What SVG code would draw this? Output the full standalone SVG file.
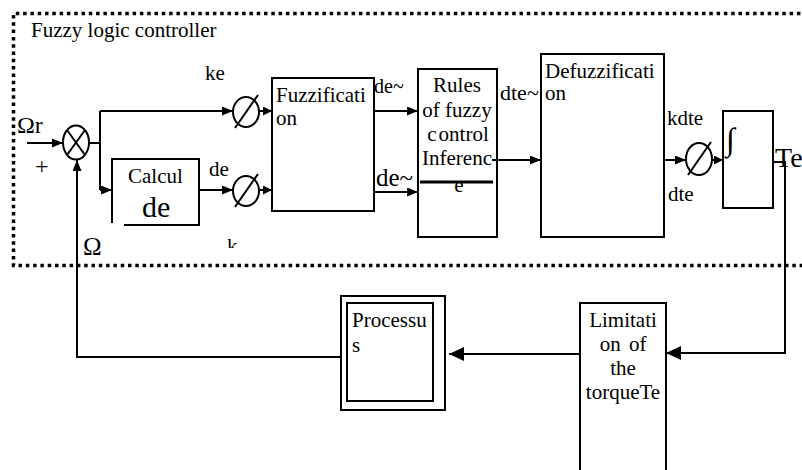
<svg xmlns="http://www.w3.org/2000/svg" width="802" height="470" viewBox="0 0 802 470">
<style>
text{font-family:"Liberation Serif","Times New Roman",serif;font-size:21px;fill:#000}
.box{fill:#fff;stroke:#000;stroke-width:2}
.ln{fill:none;stroke:#000;stroke-width:2}
.mid{text-anchor:middle}
</style>
<defs>
<marker id="a" markerUnits="userSpaceOnUse" markerWidth="11" markerHeight="9" refX="11" refY="4.5" orient="auto"><path d="M0,0 L11,4.5 L0,9 z" fill="#000"/></marker>
<marker id="s" markerUnits="userSpaceOnUse" markerWidth="9" markerHeight="9" refX="9" refY="4.5" orient="auto"><path d="M0,0 L9,4.5 L0,9 z" fill="#000"/></marker>
<marker id="b" markerUnits="userSpaceOnUse" markerWidth="15" markerHeight="14" refX="15" refY="7" orient="auto"><path d="M0,0 L15,7 L0,14 z" fill="#000"/></marker>
<clipPath id="kclip"><rect x="220" y="230" width="30" height="18"/></clipPath>
</defs>
<rect width="802" height="470" fill="#fff"/>

<g id="controller-frame">
<path d="M815,13.5 H13.5 V265.5 H815" fill="none" stroke="#000" stroke-width="3.5" stroke-dasharray="3.5 3.8"/>
<text x="31" y="37">Fuzzy logic controller</text>
</g>

<g id="connectors">
<path class="ln" d="M27,143 H63" marker-end="url(#a)"/>
<path class="ln" d="M89,143 H100 M100,111 V190"/>
<path class="ln" d="M100,111 H233" marker-end="url(#a)"/>
<path class="ln" d="M100,190 H112" marker-end="url(#a)"/>
<path class="ln" d="M199,190 H233" marker-end="url(#a)"/>
<path class="ln" d="M260,111 H272" marker-end="url(#s)"/>
<path class="ln" d="M260,190 H272" marker-end="url(#s)"/>
<path class="ln" d="M374,111 H418" marker-end="url(#a)"/>
<path class="ln" d="M374,192 H418" marker-end="url(#a)"/>
<path class="ln" d="M492,160 H541" marker-end="url(#a)"/>
<path class="ln" d="M664,160 H686" marker-end="url(#a)"/>
<path class="ln" d="M712,160 H723" marker-end="url(#s)"/>
<path class="ln" d="M773,162 H785 V353 H666" marker-end="url(#b)"/>
<path class="ln" d="M580,354 H449" marker-end="url(#b)"/>
<path class="ln" d="M341,357 H77 V160" marker-end="url(#a)"/>
</g>

<g id="sum">
<ellipse class="ln" cx="76" cy="142.5" rx="13" ry="17"/>
<path class="ln" d="M67,130 L85,155 M85,130 L67,155"/>
<text x="17" y="133" style="font-size:24px">Ωr</text>
<text x="37" y="149" style="font-size:9px">ˆ</text>
<text x="35" y="174" style="font-size:24px">+</text>
<text x="83" y="255" style="font-size:25px">Ω</text>
</g>

<g id="gain-ke">
<ellipse class="ln" cx="246" cy="112" rx="13" ry="15"/>
<path class="ln" d="M235,128 L258,95"/>
<text x="205" y="80">ke</text>
</g>

<g id="calcul">
<path class="ln" d="M112,223 V159 H199 V225 H124"/>
<text x="128" y="183">Calcul</text>
<text x="142" y="217" style="font-size:30px">de</text>
<text x="209" y="176">de</text>
</g>

<g id="gain-kde">
<ellipse class="ln" cx="246" cy="191" rx="13" ry="15"/>
<path class="ln" d="M235,207 L258,174"/>
<text x="227" y="253" clip-path="url(#kclip)">k</text>
</g>

<g id="fuzzification">
<rect class="box" x="272" y="78" width="102" height="133"/>
<text x="276" y="102">Fuzzificati</text>
<text x="276" y="125">on</text>
<text x="374" y="93" style="font-size:20px">de~</text>
<text x="376" y="186" style="font-size:25px">de~</text>
</g>

<g id="rules">
<path class="ln" d="M418,69 H497 V237 H418 Z"/>
<text class="mid" x="457" y="92">Rules</text>
<text class="mid" x="457" y="117">of fuzzy</text>
<text class="mid" x="458" y="141">c<tspan dx="2">ontrol</tspan></text>
<text class="mid" x="457" y="165">Inferenc</text>
<text class="mid" x="459" y="192">e</text>
<path d="M420,182 H493" stroke="#000" stroke-width="3"/>
<text x="500" y="100" style="font-size:22px">dte~</text>
</g>

<g id="defuzzification">
<rect class="box" x="541" y="54" width="123" height="183"/>
<text x="545" y="78">Defuzzificati</text>
<text x="545" y="100">on</text>
</g>

<g id="gain-kdte">
<ellipse class="ln" cx="699" cy="159" rx="13" ry="16"/>
<path class="ln" d="M688,175 L711,142"/>
<text x="667" y="125">kdte</text>
<text x="668" y="201">dte</text>
</g>

<g id="integrator">
<rect class="box" x="723" y="111" width="50" height="97"/>
<text x="726" y="150" style="font-size:32px">∫</text>
<text x="775" y="167" style="font-size:28px">Te</text>
</g>

<g id="limitation">
<path class="ln" d="M580,472 V303 H666 V472"/>
<text class="mid" x="623" y="327">Limitati</text>
<text class="mid" x="623" y="351" style="word-spacing:3px">on of</text>
<text class="mid" x="623" y="375">the</text>
<text class="mid" x="623" y="399">torqueTe</text>
</g>

<g id="processus">
<rect class="box" x="341" y="296" width="104" height="114"/>
<rect class="box" x="347" y="303" width="86" height="98"/>
<text x="352" y="327">Processu</text>
<text x="352" y="352">s</text>
</g>
</svg>
